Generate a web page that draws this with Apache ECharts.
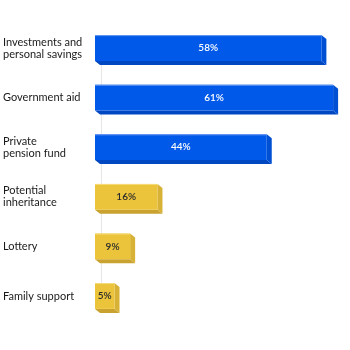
<!DOCTYPE html>
<html>
<head>
<meta charset="utf-8">
<script src="https://cdn.jsdelivr.net/npm/echarts@6/dist/echarts.min.js"></script>
<style>
  html, body { margin: 0; padding: 0; background: #fff; }
  #chart { width: 350px; height: 350px; }
</style>
</head>
<body>
<div id="chart"></div>
<script>
// sources of retirement income
const categories = [
  'Investments and\npersonal savings',
  'Government aid',
  'Private\npension fund',
  'Potential\ninheritance',
  'Lottery',
  'Family support'
]
const shares = [58, 61, 44, 16, 9, 5]
const groups = ['blue', 'blue', 'blue', 'yellow', 'yellow', 'yellow']

const palette = {
  blue: { front: '#0059e8', bottom: '#0047c2', side: '#0050d4', edge: '#6d9cf0', text: '#ffffff' },
  yellow: { front: '#ecc43b', bottom: '#c9a22f', side: '#d8b236', edge: '#f6dc7c', text: '#2a2a2a' }
}
const DX = 5
const DY = 4

function renderBar (params, api) {
  const idx = api.value(0)
  const val = api.value(1)
  const c = palette[groups[idx]]
  const start = api.coord([0, idx])
  const end = api.coord([val, idx])
  const h = api.size([0, 1])[1] * 0.52
  const x0 = start[0]
  const x1 = end[0]
  const yTop = start[1] - h / 2
  const yBot = yTop + h
  return {
    type: 'group',
    children: [
      {
        type: 'polygon',
        shape: { points: [[x0, yBot], [x1, yBot], [x1 + DX, yBot + DY], [x0 + DX, yBot + DY]] },
        style: { fill: c.bottom }
      },
      {
        type: 'polygon',
        shape: { points: [[x1, yTop], [x1 + DX, yTop + DY], [x1 + DX, yBot + DY], [x1, yBot]] },
        style: { fill: c.side }
      },
      {
        type: 'rect',
        shape: { x: x0, y: yTop, width: x1 - x0, height: h },
        style: { fill: c.front }
      },
      {
        type: 'line',
        shape: { x1: x0, y1: yTop + 0.5, x2: x1, y2: yTop + 0.5 },
        style: { stroke: c.edge, lineWidth: 1 }
      },
      {
        type: 'text',
        style: {
          x: (x0 + x1) / 2,
          y: yTop + h / 2,
          text: val + '%',
          fill: c.text,
          font: '600 10px Lato',
          align: 'center',
          verticalAlign: 'middle'
        }
      }
    ]
  }
}

const chart = echarts.init(document.getElementById('chart'))
chart.setOption({
  animation: false,
  grid: { left: 89, right: 13, top: 48, bottom: 54 },
  xAxis: {
    type: 'value',
    min: 0,
    max: 62,
    show: false
  },
  yAxis: {
    type: 'category',
    inverse: true,
    boundaryGap: false,
    data: categories,
    offset: -6,
    axisLine: { show: true, lineStyle: { color: '#e6e6e6', width: 1 } },
    axisTick: { show: false },
    axisLabel: {
      align: 'left',
      margin: 98,
      color: '#1a1a1a',
      fontFamily: 'Lato',
      fontSize: 11,
      lineHeight: 12
    }
  },
  series: [
    {
      type: 'custom',
      renderItem: renderBar,
      encode: { x: 1, y: 0 },
      data: shares.map((v, i) => [i, v])
    }
  ]
})
</script>
</body>
</html>
